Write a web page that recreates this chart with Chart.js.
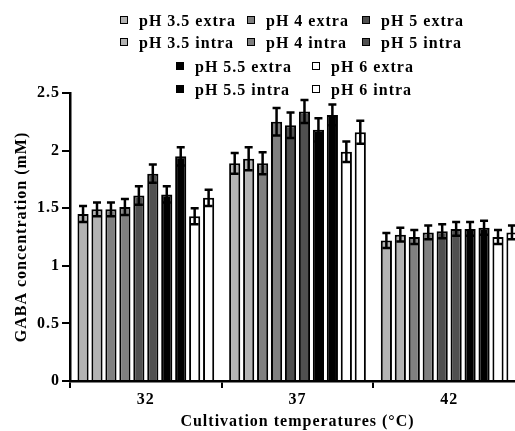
<!DOCTYPE html>
<html>
<head>
<meta charset="utf-8">
<script src="https://cdn.jsdelivr.net/npm/chart.js@4/dist/chart.umd.min.js"></script>
<style>
  html, body { margin: 0; padding: 0; background: #fff; overflow: hidden; }
  #wrap { position: relative; width: 515px; height: 431px; overflow: hidden; }
  #chart { position: absolute; left: 0; top: 0; }
  .lg { position: absolute; font: bold 16px "Liberation Serif", "Times New Roman", serif; letter-spacing: 1px; color: #000; white-space: nowrap; line-height: 18px; }
  .lg i { position: absolute; left: 0; top: 4px; width: 6px; height: 6px; border: 1.5px solid #000; }
  .lg span { position: absolute; left: 19px; top: 0; }
</style>
</head>
<body>
<div id="wrap">
  <canvas id="chart" width="530" height="431"></canvas>
  <div id="legend"></div>
</div>
<script>
const temps = ['32', '37', '42'];

const seriesNames = [
  'pH 3.5 extra', 'pH 3.5 intra', 'pH 4 extra', 'pH 4 intra', 'pH 5 extra',
  'pH 5 intra', 'pH 5.5 extra', 'pH 5.5 intra', 'pH 6 extra', 'pH 6 intra'
];

const ph35Extra = [1.45, 1.89, 1.22];
const ph35Intra = [1.49, 1.93, 1.27];
const ph4Extra  = [1.49, 1.89, 1.25];
const ph4Intra  = [1.51, 2.25, 1.29];
const ph5Extra  = [1.61, 2.22, 1.30];
const ph5Intra  = [1.80, 2.34, 1.32];
const ph55Extra = [1.62, 2.18, 1.32];
const ph55Intra = [1.95, 2.31, 1.33];
const ph6Extra  = [1.43, 1.99, 1.25];
const ph6Intra  = [1.59, 2.16, 1.29];

const err35Extra = [0.07, 0.09, 0.065];
const err35Intra = [0.06, 0.10, 0.06];
const err4Extra  = [0.06, 0.095, 0.06];
const err4Intra  = [0.07, 0.12, 0.06];
const err5Extra  = [0.08, 0.11, 0.06];
const err5Intra  = [0.08, 0.10, 0.06];
const err55Extra = [0.07, 0.10, 0.06];
const err55Intra = [0.08, 0.09, 0.06];
const err6Extra  = [0.07, 0.09, 0.06];
const err6Intra  = [0.07, 0.10, 0.06];

const yTicks = [0, 0.5, 1, 1.5, 2, 2.5];

const values = [ph35Extra, ph35Intra, ph4Extra, ph4Intra, ph5Extra, ph5Intra, ph55Extra, ph55Intra, ph6Extra, ph6Intra];
const errors = [err35Extra, err35Intra, err4Extra, err4Intra, err5Extra, err5Intra, err55Extra, err55Intra, err6Extra, err6Intra];
const fills  = ['#b3b3b3', '#b3b3b3', '#808080', '#808080', '#505050', '#505050', '#000000', '#000000', '#ffffff', '#ffffff'];

const FONT = '"Liberation Serif", "Times New Roman", serif';

// legend laid out like the figure: 3 + 3 on top, 2 + 2 below
const legendRows = [
  { y: 12, items: [[0, 120], [2, 247], [4, 362]] },
  { y: 34, items: [[1, 120], [3, 247], [5, 362]] },
  { y: 58, items: [[6, 176], [8, 312]] },
  { y: 81, items: [[7, 176], [9, 312]] }
];
const legendDiv = document.getElementById('legend');
legendRows.forEach(row => {
  row.items.forEach(([idx, x]) => {
    const d = document.createElement('div');
    d.className = 'lg';
    d.style.left = x + 'px';
    d.style.top = row.y + 'px';
    d.innerHTML = `<i style="background:${fills[idx]}"></i><span>${seriesNames[idx]}</span>`;
    legendDiv.appendChild(d);
  });
});

// the figure's lettering is a little wide; spread it out
const spacing = {
  id: 'spacing',
  beforeLayout(chart) { chart.ctx.letterSpacing = '1px'; },
  beforeDraw(chart) { chart.ctx.letterSpacing = '1px'; }
};

const errorBars = {
  id: 'errorBars',
  afterDatasetsDraw(chart) {
    const ctx = chart.ctx;
    const y = chart.scales.y;
    ctx.save();
    ctx.strokeStyle = '#000';
    ctx.lineWidth = 2.5;
    chart.data.datasets.forEach((ds, i) => {
      const meta = chart.getDatasetMeta(i);
      meta.data.forEach((bar, j) => {
        const v = ds.data[j], e = ds.errs[j];
        const top = y.getPixelForValue(v + e);
        const bot = y.getPixelForValue(v - e);
        ctx.beginPath();
        ctx.moveTo(bar.x, top); ctx.lineTo(bar.x, bot);
        ctx.moveTo(bar.x - 4, top); ctx.lineTo(bar.x + 4, top);
        ctx.moveTo(bar.x - 4, bot); ctx.lineTo(bar.x + 4, bot);
        ctx.stroke();
      });
    });
    ctx.restore();
  }
};

new Chart(document.getElementById('chart').getContext('2d'), {
  type: 'bar',
  data: {
    labels: temps,
    datasets: seriesNames.map((name, i) => ({
      label: name,
      data: values[i],
      errs: errors[i],
      backgroundColor: fills[i],
      borderColor: '#000',
      borderWidth: 2,
      barPercentage: 0.8,
      categoryPercentage: 0.92
    }))
  },
  options: {
    responsive: false,
    animation: false,
    devicePixelRatio: 1,
    layout: { padding: { top: 93, right: 5, left: 0, bottom: 0 } },
    plugins: {
      legend: { display: false },
      tooltip: { enabled: false }
    },
    scales: {
      x: {
        afterFit: s => { s.height = 50; },
        border: { color: '#000', width: 2.5 },
        grid: { offset: true, drawOnChartArea: false, color: '#000', lineWidth: 2, tickLength: 7 },
        ticks: { color: '#000', font: { family: FONT, size: 16, weight: 'bold' }, padding: 2 },
        title: {
          display: true,
          text: 'Cultivation temperatures (°C)',
          color: '#000',
          font: { family: FONT, size: 16, weight: 'bold' },
          padding: { top: 0, bottom: 0 }
        }
      },
      y: {
        min: 0,
        max: 2.5,
        afterFit: s => { s.width = 70; },
        afterBuildTicks: s => { s.ticks = yTicks.map(v => ({ value: v })); },
        border: { color: '#000', width: 2.5 },
        grid: { drawOnChartArea: false, color: '#000', lineWidth: 2, tickLength: 8 },
        ticks: {
          color: '#000',
          font: { family: FONT, size: 16, weight: 'bold' },
          padding: 2,
          callback: v => String(v)
        },
        title: {
          display: true,
          text: 'GABA concentration (mM)',
          color: '#000',
          font: { family: FONT, size: 16, weight: 'bold' },
          padding: { top: 12, bottom: 0 }
        }
      }
    }
  },
  plugins: [spacing, errorBars]
});
</script>
</body>
</html>
